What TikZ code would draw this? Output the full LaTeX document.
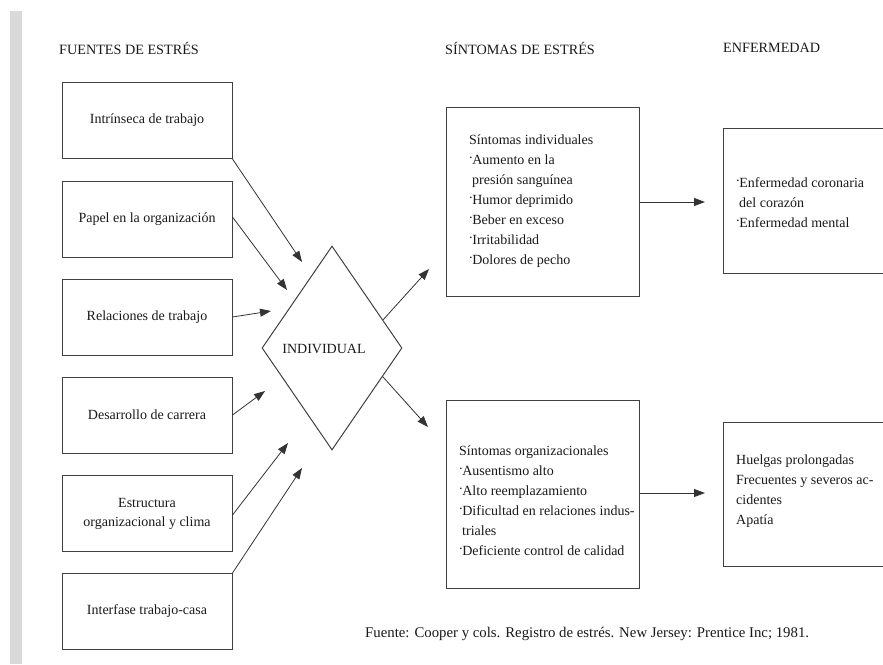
\documentclass[tikz,border=0pt]{standalone}
\usepackage{fontspec}
\usepackage{graphicx}
\setmainfont{Liberation Serif}
\usetikzlibrary{arrows.meta,shapes.geometric,calc}
\newcommand{\bul}{\raisebox{0.35ex}{\kern-0.5pt·\kern-1pt}}
\begin{document}
\begin{tikzpicture}[x=1pt,y=-1pt,
  box/.style={draw=black!75, line width=1pt, inner sep=0pt, align=center,
    font=\fontsize{14}{19}\selectfont, text=black!90},
  lbox/.style={box, minimum width=170pt, minimum height=76pt},
  arr/.style={draw=black!80, line width=0.8pt, -{Triangle[length=11pt,width=8pt]}},
  txt/.style={font=\fontsize{14}{20}\selectfont, text=black!90, inner sep=0pt, align=left, anchor=west},
  hdr/.style={font=\fontsize{14.2}{15}\selectfont, text=black!90, inner sep=0pt, anchor=west}]
\useasboundingbox (0,0) rectangle (883,664);
\clip (0,0) rectangle (883,664);
\fill[black!15] (10,11) rectangle (22,664);

% headers
\node[hdr] (h1) at (59,48) {FUENTES DE ESTRÉS};
\node[hdr] (h2) at (445,48) {SÍNTOMAS DE ESTRÉS};
\node[hdr] (h3) at (723,48) {ENFERMEDAD};

% sources
\node[lbox] (b1) at (147,120.5) {Intrínseca de trabajo};
\node[lbox] (b2) at (147,219) {Papel en la organización};
\node[lbox] (b3) at (147,317) {Relaciones de trabajo};
\node[lbox] (b4) at (147,415) {Desarrollo de carrera};
\node[lbox] (b5) at (147,513.5) {Estructura\\organizacional y clima};
\node[lbox] (b6) at (147,611.5) {Interfase trabajo-casa};

% individual
\node[draw=black!75, line width=1pt, diamond, minimum width=140pt, minimum height=204pt, inner sep=0pt] (ind) at (332,348) {};
\node[font=\fontsize{14}{15}\selectfont, text=black!90, inner sep=0pt] (indt) at (324,349) {INDIVIDUAL};

% arrow tips
\coordinate (t1) at (302,262);
\coordinate (t2) at (287,290);
\coordinate (t3) at (271,311);
\coordinate (t4) at (265,391);
\coordinate (t5) at (288,443);
\coordinate (t6) at (302,468);
\coordinate (u1) at (429,269);
\coordinate (u2) at (428,427);
\coordinate (v1) at (705,202);
\coordinate (v2) at (705,493);

\draw[arr] (b1.south east) -- (t1);
\draw[arr] ($(b2.east)+(0,-2)$) -- (t2);
\draw[arr] (b3.east) -- (t3);
\draw[arr] (b4.east) -- (t4);
\draw[arr] ($(b5.east)+(0,1.5)$) -- (t5);
\draw[arr] (b6.north east) -- (t6);
\draw[arr] ($(ind.north)!0.725!(ind.east)$) -- (u1);
\draw[arr] ($(ind.east)!0.28!(ind.south)$) -- (u2);

% symptoms
\node[box, minimum width=193pt, minimum height=189pt] (s1) at (542.5,201.5) {};
\node[box, minimum width=193pt, minimum height=188pt] (s2) at (542.5,494) {};
\node[txt] (s1t) at (469,201.5) {Síntomas individuales\\\bul Aumento en la\\\hspace{3pt}presión sanguínea\\\bul Humor deprimido\\\bul Beber en exceso\\\bul Irritabilidad\\\bul Dolores de pecho};
\node[txt] (s2t) at (459,501) {Síntomas organizacionales\\\bul Ausentismo alto\\\bul Alto reemplazamiento\\\bul Dificultad en relaciones indus-\\\hspace{3pt}triales\\\bul Deficiente control de calidad};

\draw[arr] (s1.east |- v1) -- (v1);
\draw[arr] (s2.east |- v2) -- (v2);

% disease
\node[box, minimum width=182pt, minimum height=145pt] (d1) at (814,200.5) {};
\node[box, minimum width=182pt, minimum height=144pt] (d2) at (814,494) {};
\node[txt] (d1t) at (736,202.5) {\bul Enfermedad coronaria\\\hspace{3pt}del corazón\\\bul Enfermedad mental};
\node[txt] (d2t) at (736,491.5) {Huelgas prolongadas\\Frecuentes y severos ac-\\cidentes\\Apatía};

% source
\node[txt, font=\fontsize{14.8}{18}\selectfont] (src) at (365,634) {Fuente: Cooper y cols. Registro de estrés. New Jersey: Prentice Inc; 1981.};
\end{tikzpicture}
\end{document}
